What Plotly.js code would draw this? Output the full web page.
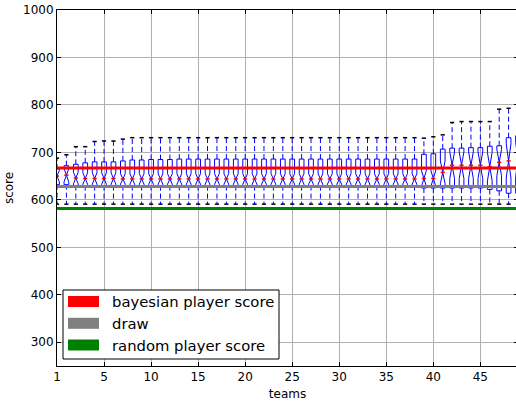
<!DOCTYPE html>
<html>
<head>
<meta charset="utf-8">
<script src="https://cdn.plot.ly/plotly-3.0.1.min.js"></script>
<style>
  html, body { margin: 0; padding: 0; overflow: hidden; background: #fff; }
</style>
</head>
<body>
<div id="chart"></div>
<script>
// Box positions (one per team) and x tick labels
const teamPos = [0,1,2,3,4,5,6,7,8,9,10,11,12,13,14,15,16,17,18,19,20,21,22,23,24,
                 25,26,27,28,29,30,31,32,33,34,35,36,37,38,39,40,41,42,43,44,45,46,47,48,49];
const tickVals = [0,5,10,15,20,25,30,35,40,45];
const tickText = ['1','5','10','15','20','25','30','35','40','45'];

// Box statistics per team
const lowerWhisker = [591,591,591,591,591,591,591,591,591,591,591,591,591,591,591,591,591,591,591,591,591,591,591,591,591,
                      591,591,591,591,591,591,591,591,591,591,591,591,591,591,591,591,591,591,591,591,591,591,591,591,591];
const q1 = [632,632,630,630,630,630,630,630,630,630,630,630,630,630,630,630,630,630,630,630,630,630,630,630,630,
            630,630,630,630,630,630,630,630,630,630,630,630,630,630,625,625,625,625,625,625,625,622,619,614,614];
const median = [650,652,646,645,645,645,645,644,644,644,644,644,644,644,644,644,644,644,644,644,644,644,644,644,644,
                644,644,644,644,644,644,644,644,644,644,644,644,644,644,645,645,658,673,673,673,673,670,679,682,685];
const q3 = [665,672,675,678,680,680,680,682,684,684,685,685,685,686,686,686,686,686,686,686,686,686,686,686,686,
            686,686,686,686,686,686,686,686,686,686,686,686,686,686,696,697,707,709,709,710,710,713,714,731,735];
const upperWhisker = [688,695,712,712,723,724,724,728,731,731,731,731,731,731,731,731,731,731,731,731,731,731,731,731,731,
                      731,731,731,731,731,731,731,731,731,731,731,731,731,731,730,733,737,763,765,765,765,765,791,793,795];
const notchSpan = [12,14,12,12,12,12,12,11,11,11,11,11,11,11,11,11,11,11,11,11,11,11,11,11,11,
                   11,11,11,11,11,11,11,11,11,11,11,11,11,11,16,16,24,28,28,28,28,30,28,36,36];

// Reference score levels
const refNames = ['bayesian player score', 'draw', 'random player score'];
const refValues = [667, 628, 582];
const refColors = ['#ff0000', '#808080', '#008000'];

const xRange = [0, 49];
const yRange = [250, 1000];

// Notched boxes (whiskers drawn separately so they can be dashed)
const boxTrace = {
  type: 'box',
  orientation: 'v',
  x: teamPos,
  q1: q1,
  median: median,
  q3: q3,
  lowerfence: q1,
  upperfence: q3,
  notched: true,
  notchspan: notchSpan,
  notchwidth: 0.5,
  width: 0.5,
  whiskerwidth: 0,
  boxpoints: false,
  line: { color: '#0000ff', width: 1 },
  fillcolor: 'rgba(0,0,0,0)',
  hoverinfo: 'skip',
  showlegend: false
};

// Dashed whiskers
const wx = [], wy = [];
teamPos.forEach((p, i) => {
  wx.push(p, p, null, p, p, null);
  wy.push(q3[i], upperWhisker[i], null, q1[i], lowerWhisker[i], null);
});
const whiskerTrace = {
  type: 'scatter', mode: 'lines', x: wx, y: wy,
  line: { color: '#0000ff', width: 1, dash: '5px,3px' },
  hoverinfo: 'skip', showlegend: false
};

// Whisker caps
const capTrace = {
  type: 'scatter', mode: 'markers',
  x: teamPos.concat(teamPos),
  y: upperWhisker.concat(lowerWhisker),
  marker: { symbol: 'line-ew', size: 3, line: { color: '#000000', width: 1.5 } },
  hoverinfo: 'skip', showlegend: false
};

// Medians
const medianTrace = {
  type: 'scatter', mode: 'markers',
  x: teamPos, y: median,
  marker: { symbol: 'line-ew', size: 3, line: { color: '#ff0000', width: 1.5 } },
  hoverinfo: 'skip', showlegend: false
};

// Horizontal reference levels
const refTraces = refValues.map((v, i) => ({
  type: 'scatter', mode: 'lines',
  x: [xRange[0], xRange[1]], y: [v, v],
  line: { color: refColors[i], width: 3 },
  name: refNames[i],
  hoverinfo: 'skip', showlegend: false
}));

// Figure geometry (pixels)
const W = 518, H = 405;
const M = { l: 57, r: 0, t: 10, b: 39 };
const plotW = W - M.l - M.r, plotH = H - M.t - M.b;
const px2x = px => (px - M.l) / plotW;
const px2y = py => (H - M.b - py) / plotH;

// Hand-built legend: framed box with colour patches
const legendBox = { left: 63, right: 279, top: 290, bottom: 359 };
const patch = { left: 68, right: 99, h: 11 };
const rowCenters = [301.5, 323.3, 345];
const textLeft = 110;

const shapes = [{
  type: 'rect', xref: 'paper', yref: 'paper', layer: 'above',
  x0: px2x(legendBox.left), x1: px2x(legendBox.right),
  y0: px2y(legendBox.bottom), y1: px2y(legendBox.top),
  fillcolor: '#ffffff', line: { color: '#000000', width: 1 }
}];
const annotations = [];
refNames.forEach((name, i) => {
  const c = rowCenters[i];
  shapes.push({
    type: 'rect', xref: 'paper', yref: 'paper', layer: 'above',
    x0: px2x(patch.left), x1: px2x(patch.right),
    y0: px2y(c + patch.h / 2), y1: px2y(c - patch.h / 2),
    fillcolor: refColors[i], line: { width: 0 }
  });
  annotations.push({
    xref: 'paper', yref: 'paper', x: px2x(textLeft), y: px2y(c),
    xanchor: 'left', yanchor: 'middle', showarrow: false,
    text: name, font: { family: 'DejaVu Sans', size: 14.8, color: '#000' }
  });
});

const axisCommon = {
  showline: true, linecolor: '#000', linewidth: 1,
  mirror: 'ticks', ticks: 'inside', ticklen: 4, tickcolor: '#000', tickwidth: 1,
  showgrid: true, gridcolor: '#b0b0b0', gridwidth: 1, zeroline: false,
  tickfont: { family: 'DejaVu Sans', size: 12, color: '#000' }
};

const layout = {
  width: W, height: H,
  margin: M,
  paper_bgcolor: '#fff', plot_bgcolor: '#fff',
  showlegend: false,
  xaxis: Object.assign({}, axisCommon, {
    range: xRange, tickmode: 'array', tickvals: tickVals, ticktext: tickText,
    title: { text: 'teams', font: { family: 'DejaVu Sans', size: 12, color: '#000' }, standoff: 6 }
  }),
  yaxis: Object.assign({}, axisCommon, {
    range: yRange, tickmode: 'linear', tick0: 0, dtick: 100,
    title: { text: 'score', font: { family: 'DejaVu Sans', size: 12, color: '#000' }, standoff: 6 }
  }),
  shapes: shapes,
  annotations: annotations
};

Plotly.newPlot('chart',
  [boxTrace, whiskerTrace, capTrace, medianTrace].concat(refTraces),
  layout, { staticPlot: true, displayModeBar: false });
</script>
</body>
</html>
